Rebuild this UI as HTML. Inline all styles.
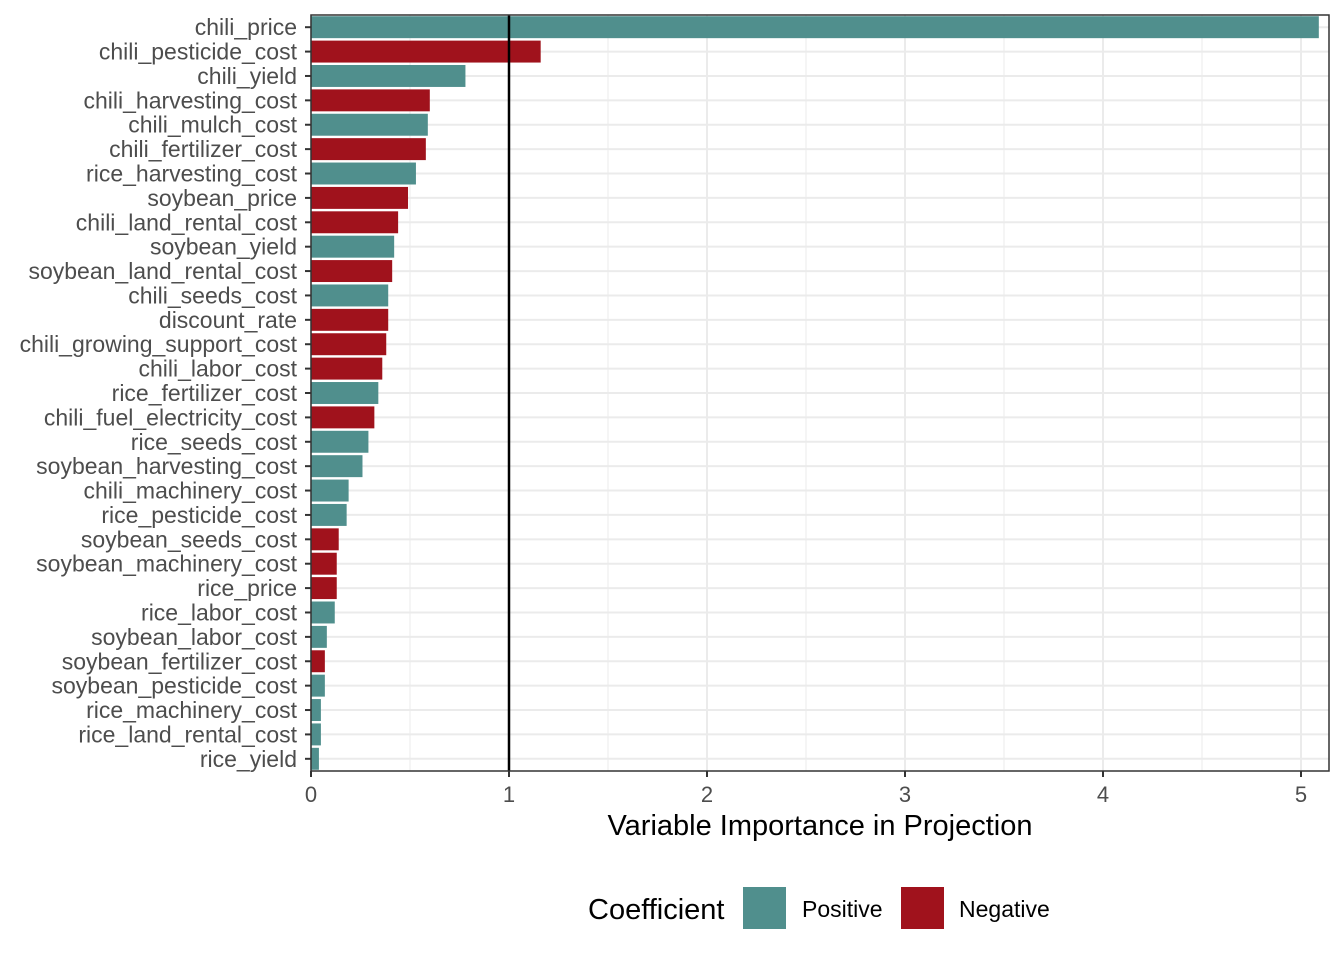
<!DOCTYPE html>
<html><head><meta charset="utf-8"><style>
body{margin:0;background:#fff;}
svg text{font-family:"Liberation Sans",Arial,sans-serif;}
</style></head><body>
<svg id="chart" width="1344" height="960" xmlns="http://www.w3.org/2000/svg"></svg>
<script>
const categories=["chili_price","chili_pesticide_cost","chili_yield","chili_harvesting_cost","chili_mulch_cost","chili_fertilizer_cost","rice_harvesting_cost","soybean_price","chili_land_rental_cost","soybean_yield","soybean_land_rental_cost","chili_seeds_cost","discount_rate","chili_growing_support_cost","chili_labor_cost","rice_fertilizer_cost","chili_fuel_electricity_cost","rice_seeds_cost","soybean_harvesting_cost","chili_machinery_cost","rice_pesticide_cost","soybean_seeds_cost","soybean_machinery_cost","rice_price","rice_labor_cost","soybean_labor_cost","soybean_fertilizer_cost","soybean_pesticide_cost","rice_machinery_cost","rice_land_rental_cost","rice_yield"];
const vipValues=[5.09,1.16,0.78,0.60,0.59,0.58,0.53,0.49,0.44,0.42,0.41,0.39,0.39,0.38,0.36,0.34,0.32,0.29,0.26,0.19,0.18,0.14,0.13,0.13,0.12,0.08,0.07,0.07,0.05,0.05,0.04];
const signs=["Positive","Negative","Positive","Negative","Positive","Negative","Positive","Negative","Negative","Positive","Negative","Positive","Negative","Negative","Negative","Positive","Negative","Positive","Positive","Positive","Positive","Negative","Negative","Negative","Positive","Positive","Negative","Positive","Positive","Positive","Positive"];
const xTicks=[0,1,2,3,4,5];
const threshold=1;
const NS="http://www.w3.org/2000/svg";
const svg=document.getElementById('chart');
const L=311,R=1329,T=15,B=771;
const xs=v=>L+v*198;
const band=(B-T)/categories.length;
const ys=i=>T+i*band;
const col={Positive:"#508f8d",Negative:"#a0121c"};
function mk(t,a,p){const e=document.createElementNS(NS,t);for(const k in a)e.setAttribute(k,a[k]);(p||svg).appendChild(e);return e;}
for(let v=0.5;v<5.2;v+=1){const g=mk('line',{x1:xs(v),x2:xs(v),y1:T,y2:B,stroke:"#ebebeb","stroke-width":1});

}
xTicks.forEach(v=>{const g=mk('line',{x1:xs(v),x2:xs(v),y1:T,y2:B,stroke:"#ebebeb","stroke-width":2});

});
categories.forEach((c,i)=>{const g=mk('line',{x1:L,x2:R,y1:ys(i)+band/2,y2:ys(i)+band/2,stroke:"#ebebeb","stroke-width":2});

});
categories.forEach((c,i)=>{
const r=mk('rect',{x:xs(0),y:ys(i)+band*0.05,width:xs(vipValues[i])-xs(0),height:band*0.9,fill:col[signs[i]]});


const t=mk('text',{x:297,y:ys(i)+band/2+8,"text-anchor":"end","font-size":23,fill:"#4d4d4d"});t.textContent=c;


const tk=mk('line',{x1:305,x2:311,y1:ys(i)+band/2,y2:ys(i)+band/2,stroke:"#333","stroke-width":2});


});
const th=mk('line',{x1:xs(threshold),x2:xs(threshold),y1:T,y2:B,stroke:"#000","stroke-width":2.5});


const fr=mk('rect',{x:L,y:T,width:R-L,height:B-T,fill:"none",stroke:"#333","stroke-width":1.5});


xTicks.forEach(v=>{
const tk=mk('line',{x1:xs(v),x2:xs(v),y1:B,y2:B+6,stroke:"#333","stroke-width":2});


const t=mk('text',{x:xs(v),y:B+31,"text-anchor":"middle","font-size":22,fill:"#4d4d4d"});t.textContent=v;


});
const xt=mk('text',{x:(L+R)/2,y:835,"text-anchor":"middle","font-size":29,fill:"#000"});xt.textContent="Variable Importance in Projection";


const lt=mk('text',{x:588,y:919,"font-size":29,fill:"#000"});lt.textContent="Coefficient";


[["Positive",743,802],["Negative",901,959]].forEach(([n,x,tx])=>{
const r=mk('rect',{x:x,y:887,width:43,height:42,fill:col[n]});


const t=mk('text',{x:tx,y:917,"font-size":23,fill:"#000"});t.textContent=n;


});
</script>
</body></html>
